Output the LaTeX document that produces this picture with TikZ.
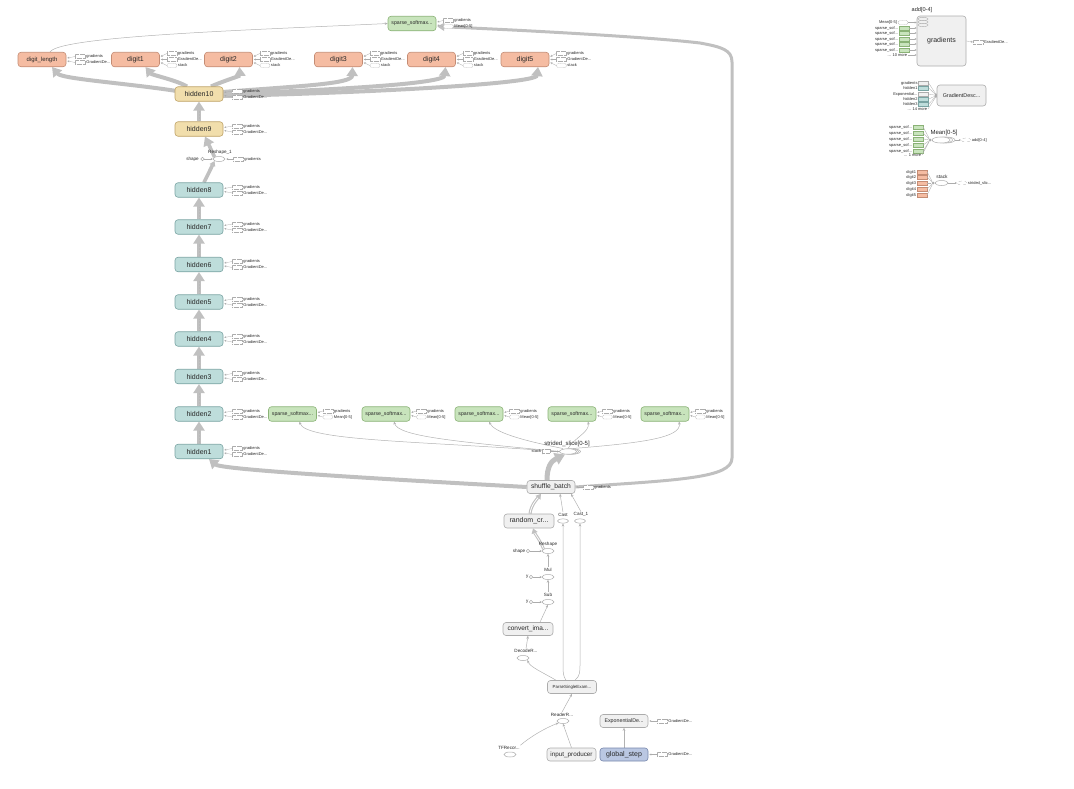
\documentclass[tikz,border=0pt]{standalone}
\usepackage{fontspec}
\setmainfont{Liberation Sans}
\usetikzlibrary{arrows.meta,shapes.geometric,calc}
\pgfdeclarelayer{background}
\pgfsetlayers{background,main}

\definecolor{digfill}{RGB}{245,188,162}
\definecolor{digline}{RGB}{196,140,116}
\definecolor{hidfill}{RGB}{190,221,219}
\definecolor{hidline}{RGB}{122,164,163}
\definecolor{topfill}{RGB}{241,222,172}
\definecolor{topline}{RGB}{190,162,102}
\definecolor{smfill}{RGB}{200,228,188}
\definecolor{smline}{RGB}{138,178,118}
\definecolor{opfill}{RGB}{240,240,240}
\definecolor{opline}{RGB}{172,172,172}
\definecolor{gsfill}{RGB}{186,199,226}
\definecolor{gsline}{RGB}{118,134,172}
\definecolor{flowgray}{RGB}{192,192,192}
\definecolor{thingray}{RGB}{178,178,178}
\definecolor{txt}{RGB}{40,40,40}

\tikzset{
  box/.style={rounded corners=3pt, draw, line width=0.6pt, minimum width=48pt,
    minimum height=14.5pt, inner sep=0pt, font=\fontsize{7}{8}\selectfont, text=txt},
  digbox/.style={box, fill=digfill, draw=digline},
  hidbox/.style={box, fill=hidfill, draw=hidline},
  topbox/.style={box, fill=topfill, draw=topline},
  smbox/.style={box, fill=smfill, draw=smline, font=\fontsize{5.2}{6}\selectfont},
  opbox/.style={box, fill=opfill, draw=opline, minimum height=13pt},
  gsbox/.style={box, fill=gsfill, draw=gsline, minimum height=13pt},
  opell/.style={ellipse, draw=opline, fill=white, line width=0.5pt,
    minimum width=12pt, minimum height=5pt, inner sep=0pt},
  minilbl/.style={font=\fontsize{4}{4.5}\selectfont, inner sep=0.6pt, text=txt},
  oplbl/.style={font=\fontsize{4.6}{5}\selectfont, inner sep=0.5pt, text=txt},
  flow/.style={draw=flowgray, line width=#1, -{Triangle[length=9pt,width=11pt]}},
  flow/.default=4pt,
  tensordots/.style={draw=gray!55, line width=0.8pt, dash pattern=on 0.6pt off 0.9pt},
  dataedge/.style={draw=thingray, line width=0.5pt, -{Stealth[length=3pt,width=2.6pt]}},
  plainedge/.style={draw=thingray, line width=0.4pt},
  stubbox/.style={draw=opline, dash pattern=on 0.7pt off 0.5pt, fill=white, line width=0.35pt,
    minimum width=10pt, minimum height=4pt, inner sep=0pt},
  inrect/.style={rectangle, line width=0.3pt, minimum width=10pt, minimum height=3.4pt, inner sep=0pt},
  stubedge/.style={draw=opline, line width=0.3pt, -{Stealth[length=2pt,width=2pt]}},
  incirc/.style={circle, draw=opline, fill=white, line width=0.4pt, minimum size=3.5pt, inner sep=0pt},
  dot/.style={circle, fill=opline, minimum size=3pt, inner sep=0pt},
}

% auxiliary control stub to the right of an op: [style]{op}{name}{dx}{dy}{label}
\newcommand{\ctrlstub}[6][]{%
  \node[stubbox,#1,anchor=west] (#3) at ($(#2.east)+(#4,#5)$) {};
  \node[minilbl,anchor=west] (#3t) at (#3.east) {#6};
  \draw[stubedge] (#3.west) -- ($(#2.east)+(1,{#5/2})$);
}
\newcommand{\expabbr}{Exponential...}

\begin{document}
\begin{tikzpicture}[x=1pt,y=-1pt]
\useasboundingbox (0,0) rectangle (1074,788);

% ---------------- loss at the top ----------------
\node[smbox] (sstop) at (412,23.5) {sparse\_softmax...};
\ctrlstub{sstop}{sstopg}{7}{-3}{gradients}
\ctrlstub[rounded corners=1.5pt]{sstop}{sstopm}{7}{3}{Mean[0-5]}

% ---------------- output heads ----------------
\node[digbox, font=\fontsize{6}{7}\selectfont] (dlen) at (42,59.5) {digit\_length};
\ctrlstub{dlen}{dlg}{9}{-3}{gradients}
\ctrlstub{dlen}{dlc}{9}{3}{GradientDe...}
\foreach \n/\x in {1/135.5,2/228.5,3/338.5,4/431.5,5/525} {
  \node[digbox] (d\n) at (\x,59.5) {digit\n};
  \ctrlstub{d\n}{dg\n}{7}{-6}{gradients}
  \ctrlstub{d\n}{dc\n}{7}{0}{GradientDe...}
  \ctrlstub[rounded corners=2pt]{d\n}{ds\n}{7}{6}{stack}
}

% ---------------- hidden layers ----------------
\foreach \n/\y in {1/451.5,2/414,3/376.5,4/339,5/302,6/264.5,7/227,8/190}
  \node[hidbox] (h\n) at (199,\y) {hidden\n};
\node[topbox] (h9) at (199,129) {hidden9};
\node[topbox] (h10) at (199,94) {hidden10};
\foreach \n in {1,...,10} {
  \ctrlstub{h\n}{hg\n}{9}{-3}{gradients}
  \ctrlstub{h\n}{hc\n}{9}{3}{GradientDe...}
}

% reshape between hidden8 and hidden9
\node[opell] (r1) at (219,159) {};
\node[oplbl] (r1l) at (220,152) {Reshape\_1};
\node[oplbl, anchor=east] (r1s) at (199.5,159) {shape};
\node[incirc] (r1c) at (202.5,159) {};
\draw[stubedge] (r1c.east) -- (r1.west);
\ctrlstub{r1}{r1g}{8}{0}{gradients}

% ---------------- per-digit losses ----------------
\foreach \n/\x in {1/292.5,2/386,3/479,4/572,5/665} {
  \node[smbox] (s\n) at (\x,414) {sparse\_softmax...};
  \ctrlstub{s\n}{sg\n}{6}{-3}{gradients}
  \ctrlstub[rounded corners=1.5pt]{s\n}{sm\n}{6}{3}{Mean[0-5]}
}

% strided_slice series
\node[opell, minimum width=17pt, minimum height=5.5pt] (ssb2) at (572,451.5) {};
\node[opell, minimum width=17pt, minimum height=5.5pt] (ssb1) at (570,451.5) {};
\node[opell, minimum width=17pt, minimum height=5.5pt] (ss) at (568,451.5) {};
\node[oplbl, font=\fontsize{6}{7}\selectfont] (ssl) at (567,444) {strided\_slice[0-5]};
\node[stubbox, minimum width=8pt] (ssin) at (546,451.5) {};
\node[minilbl, anchor=east] (ssint) at (ssin.west) {stack};
\draw[stubedge] (ssin.east) -- (ss.west);

% ---------------- input pipeline ----------------
\node[opbox, font=\fontsize{6.7}{7}\selectfont] (sb) at (551,487) {shuffle\_batch};
\ctrlstub{sb}{sbg}{8}{0}{gradients}
\node[opbox, minimum width=50pt, minimum height=14pt] (rc) at (529,521) {random\_cr...};
\node[opell, minimum width=11pt, minimum height=4.5pt] (c0) at (563,521) {};
\node[oplbl] (c0l) at (563,514.5) {Cast};
\node[opell, minimum width=11pt, minimum height=4.5pt] (c1) at (580,521) {};
\node[oplbl] (c1l) at (581,514.5) {Cast\_1};

\node[opell] (rs) at (548,551) {};
\node[oplbl] (rsl) at (548,544.5) {Reshape};
\node[incirc] (rsc) at (528,551) {};
\node[oplbl, anchor=east] (rss) at (526,551) {shape};
\draw[stubedge] (rsc.east) -- (rs.west);

\node[opell] (mul) at (548,577) {};
\node[oplbl] (mull) at (548,569.5) {Mul};
\node[incirc] (mulc) at (531,577) {};
\node[oplbl, anchor=east] (muly) at (529,577) {y};
\draw[stubedge] (mulc.east) -- (mul.west);

\node[opell] (sub) at (548,602) {};
\node[oplbl] (subl) at (548,594.5) {Sub};
\node[incirc] (subc) at (531,602) {};
\node[oplbl, anchor=east] (suby) at (529,602) {y};
\draw[stubedge] (subc.east) -- (sub.west);

\node[opbox, minimum width=50pt, font=\fontsize{6.5}{7}\selectfont] (cv) at (528,629) {convert\_ima...};
\node[opell] (dr) at (523,658) {};
\node[oplbl] (drl) at (526,651) {DecodeR...};
\node[opbox, minimum width=49pt, font=\fontsize{4.4}{5}\selectfont] (ps) at (572,687) {ParseSingleExam...};
\node[opell] (rr) at (563,721) {};
\node[oplbl] (rrl) at (562,714.5) {ReaderR...};
\node[opell] (tf) at (510,754.5) {};
\node[oplbl] (tfl) at (509,747.5) {TFRecor...};
\node[opbox, minimum width=49pt, font=\fontsize{6.3}{7}\selectfont] (ip) at (571.5,754.5) {input\_producer};
\node[opbox, minimum width=48pt, font=\fontsize{5.3}{6}\selectfont] (ed) at (624,721) {ExponentialDe...};
\ctrlstub{ed}{edg}{9}{0}{GradientDe...}
\node[gsbox, font=\fontsize{7}{8}\selectfont] (gs) at (624,754.5) {global\_step};
\ctrlstub{gs}{gsg}{9}{0}{GradientDe...}

% ---------------- auxiliary nodes on the right ----------------
\node[opbox, minimum width=49pt, minimum height=50pt] (grad) at (941.5,41) {gradients};
\node[oplbl, font=\fontsize{5.6}{6}\selectfont] (gradl) at (922,10) {add[0-4]};
\foreach \k/\yy in {1/25,2/22,3/19}
  \node[ellipse, draw=opline, fill=opfill, line width=0.4pt, minimum width=10pt,
        minimum height=3.4pt, inner sep=0pt] (gi\k) at (923,\yy) {};
\node[stubbox, rounded corners=1.5pt] (gmean) at (903,22.5) {};
\node[minilbl, anchor=east] (gmeant) at (gmean.west) {Mean[0-5]};
\draw[stubedge] (gmean.east) -- (grad.west |- gmean);
\foreach \k/\yy in {1/28,2/33,3/39,4/44,5/50} {
  \node[inrect, fill=smfill, draw=smline] (gin\k) at (904,\yy) {};
  \node[minilbl, anchor=east] (gint\k) at (gin\k.west) {sparse\_sof...};
  \draw[stubedge] (gin\k.east) -- (grad.west |- gin\k);
}
\node[minilbl, anchor=east] (gmore) at (908,55) {... 10 more};
\draw[stubedge] (gmore.east) -- (grad.west |- gmore);
\node[stubbox] (gout) at (978,42) {};
\node[minilbl, anchor=west] (goutt) at (gout.east) {GradientDe...};
\draw[stubedge] (grad.east) -- (gout.west);

\node[opbox, minimum width=49pt, minimum height=21pt, font=\fontsize{5.4}{6}\selectfont] (gd) at (961.5,95.5) {GradientDesc...};
\foreach \k/\yy/\lab/\fc/\dc in {1/83/gradients/opfill/opline, 2/88/hidden1/hidfill/hidline,
    3/94/\expabbr/opfill/opline, 4/99/hidden2/hidfill/hidline, 5/104/hidden3/hidfill/hidline} {
  \node[inrect, fill=\fc, draw=\dc] (gdi\k) at (923.5,\yy) {};
  \node[minilbl, anchor=east] (gdit\k) at (gdi\k.west) {\lab};
  \draw[stubedge] (gdi\k.east) -- (gd.west);
}
\node[minilbl, anchor=east] (gdmore) at (928,109) {... 14 more};
\draw[stubedge] (gdmore.east) -- (gd.west);

% Mean[0-5] series
\node[dot] (mdot) at (930,140) {};
\foreach \k/\yy in {1/127,2/133,3/139,4/145,5/151} {
  \node[inrect, fill=smfill, draw=smline] (mi\k) at (918,\yy) {};
  \node[minilbl, anchor=east] (mit\k) at (mi\k.west) {sparse\_sof...};
  \draw[plainedge] (mi\k.east) -- (mdot);
}
\node[minilbl, anchor=east] (mmore) at (922,155) {... 1 more};
\draw[plainedge] (mmore.east) -- (mdot);
\node[opell, minimum width=18pt, minimum height=6pt] (mnb2) at (946,140) {};
\node[opell, minimum width=18pt, minimum height=6pt] (mnb1) at (943.5,140) {};
\node[opell, minimum width=18pt, minimum height=6pt] (mn) at (941,140) {};
\node[oplbl, font=\fontsize{6}{7}\selectfont] (mnl) at (944,133) {Mean[0-5]};
\draw[plainedge] (mdot) -- (mn.west);
\node[ellipse, draw=opline, dashed, line width=0.3pt, minimum width=10pt, minimum height=4pt, inner sep=0pt] (mout) at (966,140) {};
\node[minilbl, anchor=west] (moutt) at (mout.east) {add[0-4]};
\draw[stubedge] (mnb2.east) -- (mout.west);

% stack of the digit heads
\node[dot] (stdot) at (933,183) {};
\foreach \k/\yy in {1/172,2/177,3/183,4/189,5/195} {
  \node[inrect, fill=digfill, draw=digline] (sti\k) at (922,\yy) {};
  \node[minilbl, anchor=east] (stit\k) at (sti\k.west) {digit\k};
  \draw[plainedge] (sti\k.east) -- (stdot);
}
\node[opell, minimum width=13pt, minimum height=5pt] (st) at (941.5,183) {};
\node[oplbl, font=\fontsize{4.8}{5}\selectfont] (stl) at (942,177) {stack};
\draw[plainedge] (stdot) -- (st.west);
\node[ellipse, draw=opline, dashed, line width=0.3pt, minimum width=10pt, minimum height=4pt, inner sep=0pt] (stout) at (962,183) {};
\node[minilbl, anchor=west] (stoutt) at (stout.east) {strided\_slic...};
\draw[stubedge] (st.east) -- (stout.west);

% ---------------- connectors ----------------
\begin{pgfonlayer}{background}
% hidden chain
\foreach \a/\b in {1/2,2/3,3/4,4/5,5/6,6/7,7/8,9/10} {
  \draw[flow=3.6pt] (h\a.north) -- (h\b.south);
  \draw[tensordots, shorten >=9pt, shorten <=1pt] (h\a.north) -- (h\b.south);
}
\draw[flow=3.6pt, -{Triangle[length=5pt,width=6pt]}] ($(h8.north)+(5,0)$) -- (r1.south west);
\draw[flow=3.6pt] (r1.north west) -- ($(h9.south)+(6,0)$);

% hidden10 feeds every head
\draw[flow] ($(h10.west)+(2,-3)$) .. controls (125,83) and (62,79) .. ($(dlen.south)+(10,0)$);
\draw[flow] ($(h10.north)+(-12,0)$) .. controls (176,80) and (152,75) .. ($(d1.south)+(10,0)$);
\draw[flow] ($(h10.north)+(12,0)$) .. controls (226,80) and (240,76) .. ($(d2.south)+(11,0)$);
\draw[flow] ($(h10.east)+(-1,-2)$) .. controls (300,86) and (352,84) .. ($(d3.south)+(14,0)$);
\draw[flow] ($(h10.east)+(-1,0)$) .. controls (330,90) and (444,84) .. ($(d4.south)+(14,0)$);
\draw[flow] ($(h10.east)+(-1,2)$) .. controls (360,93) and (536,84) .. ($(d5.south)+(13,0)$);

% digit_length into the top loss
\draw[dataedge] ($(dlen.north)+(8,0)$) .. controls (60,36) and (250,30) .. (sstop.west);

% batch outputs
\draw[flow=3pt, -{Triangle[length=7pt,width=8pt]}] (sb.east) .. controls (680,480) and (732,478) .. (732,458)
  -- (732,62) .. controls (732,50) and (722,47) .. (700,43)
  .. controls (650,37) and (520,30) .. ($(sstop.east)+(1,3)$);
\draw[flow] (sb.west) .. controls (400,480) and (222,470) .. ($(h1.south)+(10,0)$);
\draw[flow=5pt, -{Triangle[length=10pt,width=12pt]}] ($(sb.north)+(-4,0)$) .. controls (547,467) and (551,461) .. ($(ss.south)+(-3,0)$);

% strided_slice into each digit loss
\draw[dataedge] (ss.west) .. controls (420,441) and (305,441) .. ($(s1.south)+(7,0)$);
\draw[dataedge] (ss.west) .. controls (450,441) and (398,436) .. ($(s2.south)+(8,0)$);
\draw[dataedge] ($(ss.north)+(-5,0)$) .. controls (520,440) and (494,432) .. ($(s3.south)+(10,0)$);
\draw[dataedge] (ss.north) .. controls (574,438) and (590,432) .. ($(s4.south)+(16,0)$);
\draw[dataedge] ($(ss.north)+(5,0)$) .. controls (640,443) and (682,438) .. ($(s5.south)+(14,0)$);

% preprocessing chain
\draw[flow=3pt, -{Triangle[length=5pt,width=6pt]}] ($(rc.north)+(1,0)$) .. controls (531,505) and (537,499) .. ($(sb.south)+(-10,0)$);
\draw[draw=white, line width=0.8pt, shorten >=5pt] ($(rc.north)+(1,0)$) .. controls (531,505) and (537,499) .. ($(sb.south)+(-10,0)$);
\draw[flow=2.8pt, -{Triangle[length=5pt,width=6pt]}] (rs.north west) .. controls (540,540) and (535,534) .. ($(rc.south)+(4,0)$);
\draw[draw=white, line width=0.7pt, shorten >=5pt] (rs.north west) .. controls (540,540) and (535,534) .. ($(rc.south)+(4,0)$);
\draw[dataedge] (c0l.north) -- ($(sb.south)+(9,0)$);
\draw[dataedge] (c1l.north) -- ($(sb.south)+(20,0)$);
\draw[dataedge] ($(ps.north)+(-6,0)$) .. controls (563,676) and (563,672) .. (563,664) -- (c0.south);
\draw[dataedge] ($(ps.north)+(3,0)$) .. controls (580,676) and (580,672) .. (580,664) -- (c1.south);
\draw[dataedge] (mull.north) -- (rs.south);
\draw[dataedge] (subl.north) -- (mul.south);
\draw[dataedge] ($(cv.north)+(12,0)$) -- (sub.south);
\draw[dataedge] (drl.north) -- (cv.south);
\draw[dataedge] ($(ps.north)+(-16,0)$) .. controls (542,672) and (530,667) .. (dr.south east);
\draw[dataedge] (rrl.north) -- (ps.south);
\draw[dataedge] (tfl.north east) .. controls (530,737) and (545,728) .. (rr.south west);
\draw[dataedge] (ip.north) -- (rr.south);
\draw[dataedge] (gs.north) -- (ed.south);
\end{pgfonlayer}
\end{tikzpicture}
\end{document}
